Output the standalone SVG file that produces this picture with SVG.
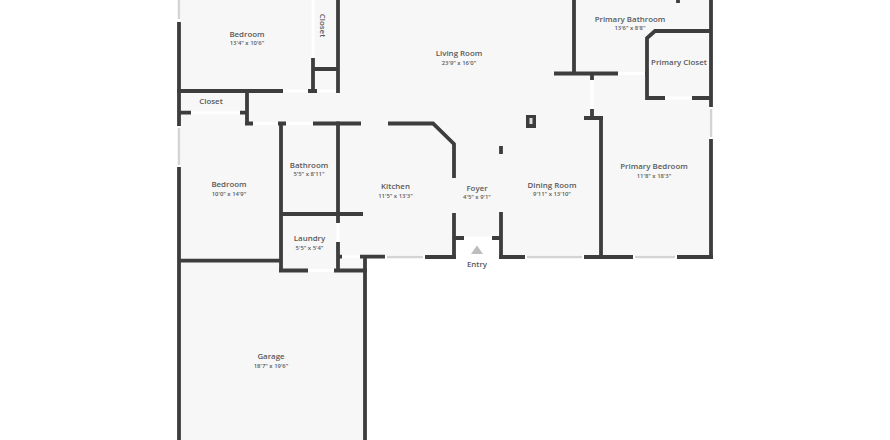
<svg xmlns="http://www.w3.org/2000/svg" width="890" height="440" viewBox="0 0 890 440">
<style>
.w{stroke:#3d3d3d;stroke-width:3.800;fill:none;stroke-linecap:butt;stroke-linejoin:miter}
.d{stroke:#ffffff;stroke-width:3;fill:none}
.e{stroke:#ffffff;stroke-width:4;fill:none}
.g{stroke:#d4d4d4;stroke-width:2.500;fill:none}
.n{font:600 7.900px "Open Sans",sans-serif;fill:#5a5a5a;text-anchor:middle}
.s{font:600 5.900px "Open Sans",sans-serif;fill:#5a5a5a;text-anchor:middle}
</style>
<rect width="890" height="440" fill="#fff"/>
<path d="M179 0H711V257H501V238H454V257H365V440H179Z" fill="#f7f7f7"/>
<g id="openings">
<path class="d" d="M283 91H308M317 91H337M313 0V58M191 112.700H240M253 123.500H278M286 123.500H313M338 223V242M342 256.700H360M308 270.500H334M464 238H492M592 80V109M618 73.500H645M665 98H692"/>
<path class="e" d="M179 0V21M179 126V167M385 257H425M525 257H584M633 257H677M711 107V139"/>
<path class="g" d="M179 0V19M179 128V165M387 257H423M527 257H582M635 257H675M711 109V137"/>
</g>
<g id="walls">
<path class="w" d="M179 22V126M179 167V440M177 91H283M308 91H317M313 58V93M338 0V93M313 69H338M179 112.700H191M240 112.700H247M247 91V125.500M245 123.500H253M278 123.500H286M313 123.500H361"/>
<path class="w" d="M281 123.500V272.500M338 121.500V223M338 242V272M281 214H363M179 260.700H281M279 270.500H308M334 270.500H367M365 255V440M338 256.700H342M360 256.700H385"/>
<path class="w" d="M388 123.500H433L454 144V178M454 213V259M425 257H456M454 238H464M492 238H501M501 212V259M501 146V154M499 257H525M584 257H633M677 257H713M601 116V257M584 118H603M592 109V118M592 74V80M554 73.500H618M574 0V75M645 73.500H647M665 98H647V38L655 31H711M692 98H711M711 0V107M711 139V259M678 0V3"/>
<rect x="526" y="115" width="10" height="13" fill="#3d3d3d"/>
<rect x="529.500" y="118" width="3" height="6" fill="#ddd"/>
</g>
<g id="room-bedroom-1"><text class="n" x="247" y="37">Bedroom</text><text class="s" x="247" y="45">13'4" x 10'6"</text></g>
<g id="closet-1"><text class="n" transform="translate(320 25.500) rotate(90)">Closet</text></g>
<g id="closet-2"><text class="n" x="211" y="103.500">Closet</text></g>
<g id="living-room"><text class="n" x="459" y="56">Living Room</text><text class="s" x="459" y="65">23'9" x 16'0"</text></g>
<g id="primary-bathroom"><text class="n" x="630" y="21.500">Primary Bathroom</text><text class="s" x="630" y="30">13'6" x 8'8"</text></g>
<g id="primary-closet"><text class="n" x="679" y="65">Primary Closet</text></g>
<g id="bedroom-2"><text class="n" x="229" y="187">Bedroom</text><text class="s" x="229" y="196">10'0" x 14'9"</text></g>
<g id="bathroom"><text class="n" x="309" y="167.500">Bathroom</text><text class="s" x="309" y="176">5'5" x 8'11"</text></g>
<g id="laundry"><text class="n" x="309.500" y="241">Laundry</text><text class="s" x="309.500" y="249.500">5'5" x 5'4"</text></g>
<g id="kitchen"><text class="n" x="395.500" y="189">Kitchen</text><text class="s" x="395.500" y="198">11'5" x 13'3"</text></g>
<g id="foyer"><text class="n" x="477" y="190.500">Foyer</text><text class="s" x="477" y="199">4'5" x 9'1"</text></g>
<g id="dining-room"><text class="n" x="552" y="187.500">Dining Room</text><text class="s" x="552" y="196">9'11" x 13'10"</text></g>
<g id="primary-bedroom"><text class="n" x="654" y="169">Primary Bedroom</text><text class="s" x="654" y="177.500">11'8" x 18'3"</text></g>
<g id="garage"><text class="n" x="271" y="359">Garage</text><text class="s" x="271" y="367.500">18'7" x 19'6"</text></g>
<g id="entry"><path d="M471 254L477 245.500L483 254Z" fill="#bdbdbd"/><text class="n" x="477" y="266.500">Entry</text></g>
</svg>
